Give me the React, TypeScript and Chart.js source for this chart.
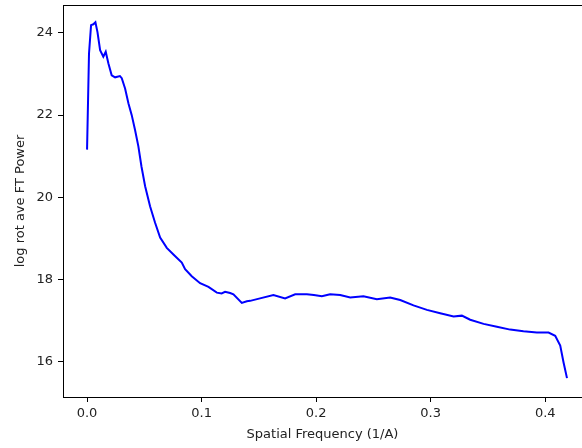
import React, { useEffect, useRef } from "react";
import { Chart, registerables } from "chart.js";

Chart.register(...registerables);

const freq: number[] = [
  0.0, 0.0017, 0.0035, 0.0055, 0.0073, 0.0091, 0.0114, 0.0142, 0.0163, 0.0186,
  0.0215, 0.0245, 0.0287, 0.0303, 0.0332, 0.0361, 0.039, 0.0419, 0.0448, 0.0475,
  0.0507, 0.055, 0.0594, 0.0638, 0.0696, 0.0754, 0.0827, 0.0856, 0.0914, 0.0987,
  0.106, 0.1133, 0.1175, 0.1205, 0.1249, 0.1278, 0.1351, 0.1395, 0.1424, 0.151,
  0.1627, 0.1729, 0.1817, 0.1919, 0.198, 0.205, 0.2122, 0.221, 0.2297, 0.2413,
  0.253, 0.2646, 0.2734, 0.285, 0.2967, 0.3083, 0.32, 0.3272, 0.3345, 0.3462,
  0.3578, 0.3694, 0.381, 0.3927, 0.4029, 0.4087, 0.4131, 0.416, 0.419,
];

const power: number[] = [
  21.16, 23.5, 24.19, 24.21, 24.26, 24.02, 23.58, 23.42, 23.54, 23.26,
  22.97, 22.92, 22.95, 22.9, 22.65, 22.29, 22.0, 21.64, 21.24, 20.75,
  20.27, 19.78, 19.38, 19.02, 18.77, 18.61, 18.41, 18.25, 18.08, 17.91,
  17.82, 17.68, 17.66, 17.7, 17.67, 17.64, 17.43, 17.47, 17.48, 17.54,
  17.62, 17.54, 17.64, 17.64, 17.62, 17.59, 17.64, 17.62, 17.56, 17.59,
  17.52, 17.56, 17.5, 17.37, 17.26, 17.18, 17.1, 17.12, 17.02, 16.92,
  16.85, 16.78, 16.74, 16.71, 16.71, 16.63, 16.39, 15.98, 15.6,
];

const xTicks: number[] = [0.0, 0.1, 0.2, 0.3, 0.4];
const yTicks: number[] = [16, 18, 20, 22, 24];

const xTitle = "Spatial Frequency (1/A)";
const yTitle = "log rot ave FT Power";

const framePlugin = {
  id: "frame",
  afterDraw(chart: any) {
    const { ctx, chartArea } = chart;
    ctx.save();
    ctx.strokeStyle = "#000";
    ctx.lineWidth = 1;
    ctx.beginPath();
    ctx.moveTo(chartArea.left, chartArea.top + 0.5);
    ctx.lineTo(chartArea.right + 2, chartArea.top + 0.5);
    ctx.stroke();
    ctx.restore();
  },
};

export default function App() {
  const ref = useRef<HTMLCanvasElement | null>(null);

  useEffect(() => {
    if (!ref.current) return;
    const font = { family: "DejaVu Sans", size: 13 };
    const chart = new Chart(ref.current, {
      type: "line",
      data: {
        datasets: [
          {
            data: freq.map((f, i) => ({ x: f, y: power[i] })),
            borderColor: "#0000ff",
            borderWidth: 2,
            pointRadius: 0,
            tension: 0,
            fill: false,
          },
        ],
      },
      options: {
        animation: false,
        responsive: false,
        maintainAspectRatio: false,
        layout: { padding: { top: 5, right: 0, left: 0, bottom: 0 } },
        plugins: { legend: { display: false }, tooltip: { enabled: false } },
        scales: {
          x: {
            type: "linear",
            min: -0.021,
            max: 0.4321,
            afterBuildTicks: (s: any) => {
              s.ticks = xTicks.map((v) => ({ value: v }));
            },
            afterFit: (s: any) => {
              s.height = 51;
              s.paddingLeft = 0;
              s.paddingRight = 0;
            },
            ticks: {
              color: "#222",
              font,
              padding: 4,
              maxRotation: 0,
              autoSkip: false,
              callback: (v: any) => Number(v).toFixed(1),
            },
            grid: {
              drawOnChartArea: false,
              drawTicks: true,
              tickLength: 5,
              color: "#000",
            },
            border: { display: true, color: "#000", width: 1 },
            title: {
              display: true,
              text: xTitle,
              color: "#222",
              font,
              padding: { top: 0, bottom: 6 },
            },
          },
          y: {
            type: "linear",
            min: 15.14,
            max: 24.68,
            afterBuildTicks: (s: any) => {
              s.ticks = yTicks.map((v) => ({ value: v }));
            },
            afterFit: (s: any) => {
              s.width = 63;
              s.paddingTop = 0;
              s.paddingBottom = 0;
            },
            ticks: {
              color: "#222",
              font,
              padding: 5,
              autoSkip: false,
              callback: (v: any) => String(v),
            },
            grid: {
              drawOnChartArea: false,
              drawTicks: true,
              tickLength: 5,
              color: "#000",
            },
            border: { display: true, color: "#000", width: 1 },
            title: {
              display: true,
              text: yTitle,
              color: "#222",
              font,
              padding: { top: 13, bottom: 0 },
            },
          },
        },
      },
      plugins: [framePlugin],
    });
    return () => chart.destroy();
  }, []);

  return (
    <div
      style={{
        position: "fixed",
        left: 0,
        top: 0,
        width: 582,
        height: 448,
        overflow: "hidden",
        background: "#fff",
      }}
    >
      <canvas ref={ref} width={582} height={448} style={{ width: 582, height: 448, display: "block" }} />
    </div>
  );
}
